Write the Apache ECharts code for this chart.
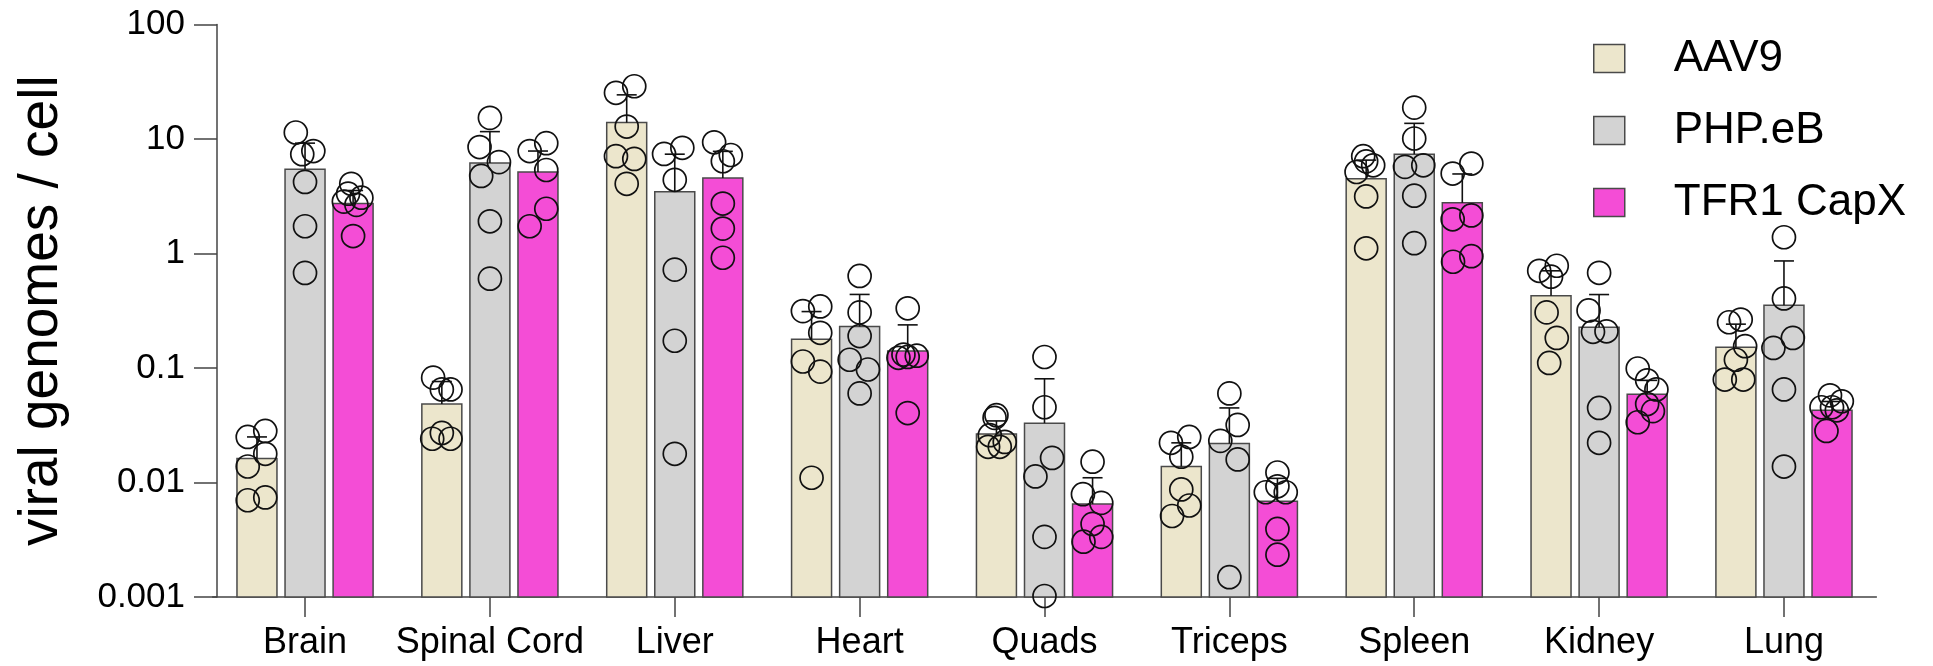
<!DOCTYPE html>
<html><head><meta charset="utf-8">
<script src="https://cdn.jsdelivr.net/npm/echarts@6/dist/echarts.min.js"></script>
<style>html,body{margin:0;padding:0;background:#fff}#c{width:1933px;height:666px}</style>
</head><body><div id="c"></div>
<script>
// ---------------- data ----------------
const categories = ['Brain', 'Spinal Cord', 'Liver', 'Heart', 'Quads', 'Triceps', 'Spleen', 'Kidney', 'Lung'];
const seriesNames = ['AAV9', 'PHP.eB', 'TFR1 CapX'];
const yTickLabels = ['0.001', '0.01', '0.1', '1', '10', '100'];

// bar heights (mean)
const meanAAV9 = [0.0162, 0.0484, 13.9, 0.178, 0.0265, 0.0138, 4.50, 0.428, 0.152];
const meanPHPeB = [5.45, 6.18, 3.46, 0.230, 0.0330, 0.0219, 7.37, 0.2265, 0.353];
const meanTFR1 = [2.73, 5.15, 4.57, 0.1406, 0.00648, 0.00685, 2.77, 0.059, 0.0427];

// upper end of error bars
const errTopAAV9 = [0.0250, 0.0762, 24.3, 0.311, 0.0345, 0.0222, 6.54, 0.706, 0.2415];
const errTopPHPeB = [9.2, 11.6, 7.37, 0.439, 0.0805, 0.0448, 13.7, 0.438, 0.861];
const errTopTFR1 = [3.55, 7.85, 7.8, 0.238, 0.0110, 0.01087, 4.95, 0.078, 0.051];

// individual animals (values) and their horizontal jitter (in category units)
const pointsAAV9 = [
  [0.0250, 0.0282, 0.0178, 0.0138, 0.0070, 0.0074],
  [0.0824, 0.065, 0.065, 0.0271, 0.0241, 0.0241],
  [25.3, 28.9, 12.85, 7.08, 6.7, 4.06],
  [0.314, 0.345, 0.203, 0.114, 0.093, 0.011],
  [0.0387, 0.0367, 0.0259, 0.0226, 0.0205, 0.0205],
  [0.0222, 0.025, 0.0168, 0.0087, 0.0063, 0.0051],
  [7.08, 5.89, 5.15, 6.38, 3.15, 1.11],
  [0.706, 0.782, 0.627, 0.306, 0.183, 0.1107],
  [0.251, 0.265, 0.155, 0.118, 0.0793, 0.0793]
];
const jitterAAV9 = [
  [-0.05, 0.045, 0.045, -0.05, -0.05, 0.045],
  [-0.047, 0, 0.047, 0, -0.052, 0.047],
  [-0.058, 0.041, 0, -0.058, 0.041, 0],
  [-0.047, 0.047, 0.047, -0.047, 0.047, 0],
  [0, -0.01, -0.036, 0.045, -0.045, 0.018],
  [-0.056, 0.043, 0, 0, 0.043, -0.05],
  [-0.016, 0.038, -0.052, 0, 0, 0],
  [-0.064, 0.031, 0, -0.024, 0.031, -0.01],
  [-0.037, 0.026, 0.05, 0, -0.06, 0.04]
];
const pointsPHPeB = [
  [11.4, 7.37, 7.85, 4.22, 1.73, 0.677],
  [15.3, 8.5, 6.28, 4.76, 1.91, 0.603],
  [7.4, 8.38, 4.4, 0.723, 0.173, 0.0178],
  [0.637, 0.306, 0.190, 0.118, 0.097, 0.060],
  [0.1247, 0.0454, 0.0164, 0.0113, 0.00335, 0.00102],
  [0.060, 0.0318, 0.0231, 0.0159, 0.00149],
  [18.8, 10.1, 5.71, 5.89, 3.2, 1.23],
  [0.678, 0.318, 0.209, 0.207, 0.0448, 0.0222],
  [1.387, 0.405, 0.183, 0.1497, 0.065, 0.01378]
];
const jitterPHPeB = [
  [-0.05, -0.015, 0.045, 0, 0, 0],
  [0, -0.056, 0.049, -0.047, 0, 0],
  [-0.058, 0.041, 0, 0, 0, 0],
  [0, 0, 0, -0.054, 0.045, 0],
  [0, 0, 0.041, -0.049, 0, 0],
  [0, 0.045, -0.049, 0.045, 0],
  [0, 0, -0.05, 0.049, 0, 0],
  [0, -0.057, 0.04, -0.033, 0, 0],
  [0, 0, 0.048, -0.057, 0, 0]
];
const pointsTFR1 = [
  [4.06, 3.33, 3.07, 2.84, 2.66, 1.42],
  [7.85, 9.2, 5.36, 2.46, 1.73],
  [9.35, 7.25, 6.39, 2.73, 1.65, 0.918],
  [0.332, 0.1227, 0.125, 0.128, 0.131, 0.0404],
  [0.0152, 0.0079, 0.00664, 0.00435, 0.00304, 0.00335],
  [0.01223, 0.00822, 0.00822, 0.00926, 0.00393, 0.00234],
  [4.99, 6.1, 1.99, 2.15, 0.847, 0.947],
  [0.099, 0.078, 0.065, 0.0484, 0.042, 0.0336],
  [0.0577, 0.0512, 0.0454, 0.0454, 0.0427, 0.0282]
];
const jitterTFR1 = [
  [-0.01, -0.027, 0.045, -0.05, 0.018, 0],
  [-0.045, 0.045, 0.045, 0.045, -0.045],
  [-0.047, 0.043, 0, 0, 0, 0],
  [0, -0.05, 0, 0.049, -0.023, 0],
  [0, -0.052, 0.047, 0, -0.049, 0.047],
  [0, -0.063, 0.045, 0, 0, 0],
  [-0.052, 0.049, -0.052, 0.049, -0.05, 0.049],
  [-0.051, 0, 0.05, 0, 0.031, -0.051],
  [-0.011, 0.053, 0, -0.057, 0.026, -0.03]
];

// ---------------- chart ----------------
const FONT = "'Liberation Sans', Arial, Helvetica, sans-serif";
const colors = ['#ECE6CC', '#D3D3D3', '#F44DD6'];
const barBorder = '#4a4a4a';
const groupOffset = [-0.26, 0, 0.26];
const barW = 0.2163;
const Y_MIN = 0.001, Y_MAX = 100;

const means = [meanAAV9, meanPHPeB, meanTFR1];
const errTops = [errTopAAV9, errTopPHPeB, errTopTFR1];
const points = [pointsAAV9, pointsPHPeB, pointsTFR1];
const jitters = [jitterAAV9, jitterPHPeB, jitterTFR1];

function barRender(g) {
  return function (params, api) {
    const x = api.value(0) + groupOffset[g];
    const v = api.value(1);
    const l = api.coord([x - barW / 2, v]);
    const r = api.coord([x + barW / 2, v]);
    const base = api.coord([x, Y_MIN]);
    return {
      type: 'rect',
      shape: { x: l[0], y: l[1], width: r[0] - l[0], height: base[1] - l[1] },
      style: { fill: colors[g], stroke: barBorder, lineWidth: 1.5 }
    };
  };
}
function errRender(g) {
  return function (params, api) {
    const x = api.value(0) + groupOffset[g];
    const m = api.coord([x, api.value(1)]);
    const t = api.coord([x, api.value(2)]);
    const cw = 10;
    const st = { stroke: '#111', lineWidth: 1.6 };
    return {
      type: 'group',
      children: [
        { type: 'line', shape: { x1: m[0], y1: m[1], x2: t[0], y2: t[1] }, style: st },
        { type: 'line', shape: { x1: t[0] - cw, y1: t[1], x2: t[0] + cw, y2: t[1] }, style: st }
      ]
    };
  };
}

const series = [];
for (let g = 0; g < 3; g++) {
  series.push({
    name: seriesNames[g], type: 'custom', xAxisIndex: 1, yAxisIndex: 0,
    renderItem: barRender(g), encode: { x: 0, y: 1 }, z: 2,
    data: categories.map((c, i) => [i, means[g][i]])
  });
}
for (let g = 0; g < 3; g++) {
  series.push({
    name: seriesNames[g], type: 'custom', xAxisIndex: 1, yAxisIndex: 0,
    renderItem: errRender(g), encode: { x: 0, y: [1, 2] }, z: 3,
    data: categories.map((c, i) => [i, means[g][i], errTops[g][i]])
  });
}
for (let g = 0; g < 3; g++) {
  const d = [];
  points[g].forEach((arr, i) => arr.forEach((v, k) => d.push([i + groupOffset[g] + jitters[g][i][k], v])));
  series.push({
    name: seriesNames[g], type: 'scatter', xAxisIndex: 1, yAxisIndex: 0,
    symbol: 'circle', symbolSize: 23, clip: false, z: 4,
    itemStyle: { color: 'rgba(0,0,0,0)', borderColor: '#111', borderWidth: 1.7, opacity: 1 },
    data: d
  });
}

const chart = echarts.init(document.getElementById('c'), null, { renderer: 'canvas' });
chart.setOption({
  animation: false,
  backgroundColor: '#ffffff',
  grid: { left: 212.6, right: 56.6, top: 24.5, bottom: 69, containLabel: false },
  legend: {
    orient: 'vertical', left: 1588, top: 31.5,
    itemWidth: 31, itemHeight: 28, itemGap: 28, selectedMode: false,
    textStyle: { fontFamily: FONT, fontSize: 44, color: '#000', padding: [0, 0, 0, 44], lineHeight: 28 },
    data: seriesNames.map((n, g) => ({
      name: n, icon: 'rect',
      itemStyle: { color: colors[g], borderColor: barBorder, borderWidth: 1.5 }
    }))
  },
  xAxis: [
    {
      type: 'category', data: categories, boundaryGap: true,
      axisLine: { show: true, onZero: false, lineStyle: { color: '#444', width: 1.5 } },
      axisTick: { show: true, alignWithLabel: true, length: 20, lineStyle: { color: '#444', width: 1.5 } },
      axisLabel: { interval: 0, fontFamily: FONT, fontSize: 36, color: '#000', margin: 28 },
      splitLine: { show: false }
    },
    { type: 'value', min: -0.5, max: 8.5, show: false }
  ],
  yAxis: {
    type: 'log', logBase: 10, min: Y_MIN, max: Y_MAX, offset: -4.4,
    name: 'viral genomes / cell', nameLocation: 'middle', nameGap: 148,
    nameTextStyle: { fontFamily: FONT, fontSize: 55, color: '#000' },
    axisLine: { show: true, onZero: false, lineStyle: { color: '#444', width: 1.5 } },
    axisTick: { show: true, length: 23, lineStyle: { color: '#444', width: 1.5 } },
    minorTick: { show: false },
    axisLabel: {
      fontFamily: FONT, fontSize: 35, color: '#000', margin: 32,
      formatter: v => yTickLabels[Math.round(Math.log10(v)) + 3]
    },
    splitLine: { show: false }
  },
  series: series
});
</script>
</body></html>
